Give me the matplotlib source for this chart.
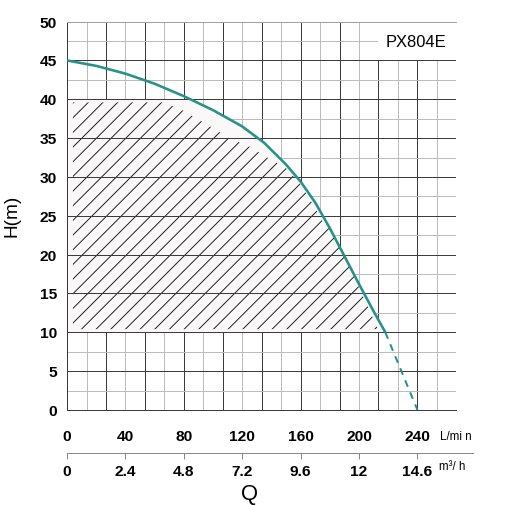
import numpy as np
import matplotlib
matplotlib.use('Agg')
import matplotlib.pyplot as plt
from matplotlib.patches import Rectangle
from matplotlib.ticker import FixedLocator, NullFormatter

# ---- data ----
curve_q = [0, 20, 40, 60, 80, 100, 120, 135, 150, 160, 170, 180, 190, 200, 210, 218]
curve_h = [45, 44.3, 43.3, 42.0, 40.4, 38.6, 36.5, 34.4, 31.6, 29.4, 26.7, 23.4, 19.8, 16.2, 12.7, 10.0]
dash_q = [218, 240]
dash_h = [10.0, 0.0]
hatch_q = [4, 66, 80, 98, 111, 125, 138, 151, 160, 168, 175, 181, 187, 197, 206, 213]
hatch_h = [39.6, 39.6, 38.5, 36.5, 35, 33.9, 32.4, 31.0, 29.0, 26.6, 24.3, 23.0, 20.8, 17.0, 13.3, 10.4]
lpm_ticks = [0, 40, 80, 120, 160, 200, 240]
m3h_labels = ['0', '2.4', '4.8', '7.2', '9.6', '12', '14.6']
h_ticks = [0, 5, 10, 15, 20, 25, 30, 35, 40, 45, 50]
model = 'PX804E'

plt.rcParams['font.family'] = ['Liberation Sans', 'DejaVu Sans']
DPI = 88
px = 72 / DPI

fig = plt.figure(figsize=(512.4 / DPI, 505.4 / DPI), dpi=DPI)
ax = fig.add_axes([67 / 512, 95 / 505, 389 / 512, 388 / 505])
col = 40 / 3
xmax = 20 * col
ax.set_xlim(0, xmax)
ax.set_ylim(0, 50)

ax.xaxis.set_major_locator(FixedLocator(np.arange(0, 21, 2) * col))
ax.xaxis.set_minor_locator(FixedLocator(np.arange(1, 20, 2) * col))
ax.xaxis.set_major_formatter(NullFormatter())
ax.set_yticks(h_ticks, [str(v) for v in h_ticks], fontweight='bold', fontsize=15.5 * px)
ax.yaxis.set_minor_locator(FixedLocator(np.arange(2.5, 50, 5)))
ax.tick_params(axis='x', which='both', length=0)
ax.tick_params(axis='y', which='both', length=0, pad=10 * px)
ax.set_axisbelow(True)
ax.grid(which='major', color='#3c3c3c', lw=1 * px)
ax.grid(which='minor', color='#bcbcbc', lw=1 * px)

for s in ['left', 'bottom']:
    ax.spines[s].set_color('#3c3c3c')
    ax.spines[s].set_linewidth(1 * px)
ax.spines['right'].set_visible(False)
ax.spines['top'].set_color('#a0a0a0')
ax.spines['top'].set_linewidth(1 * px)

# light fill under the curve between 10 and 40 m
ax.fill_between(curve_q, 10, np.minimum(curve_h, 40), facecolor='#faf8f8', lw=0, zorder=1)
# hatched working range
plt.rcParams['hatch.linewidth'] = 0.9 * px
ax.fill_between(hatch_q, 10.4, hatch_h, facecolor='none', edgecolor='#111111',
                hatch='//', lw=0, zorder=1.3)
ax.hlines([v for v in h_ticks if 10 <= v <= 40], 0, xmax, colors='#3c3c3c',
          lw=1 * px, zorder=1.5)

# model label box
ax.add_patch(Rectangle((16 * col, 45), 4 * col, 5, facecolor='white', edgecolor='none', zorder=1.2))
ax.text(239, 47.3, model, ha='center', va='center', fontsize=16.5 * px, zorder=4)

# curve
teal = '#27918c'
ax.plot(curve_q, curve_h, color=teal, lw=2.6 * px, zorder=3, solid_capstyle='butt',
        solid_joinstyle='round')
ax.plot(dash_q, dash_h, color=teal, lw=2 * px, ls=(0, (3.5, 3)), zorder=3, clip_on=False)

# secondary x axes
sec1 = ax.secondary_xaxis('bottom')
sec1.set_xticks(lpm_ticks, [str(v) for v in lpm_ticks], fontweight='bold', fontsize=15.5 * px)
sec1.tick_params(length=0, pad=20 * px)
sec1.spines['bottom'].set_visible(False)

sec2 = ax.secondary_xaxis(-0.110)
sec2.set_xticks(lpm_ticks, m3h_labels, fontweight='bold', fontsize=15.5 * px)
sec2.tick_params(length=6 * px, width=1 * px, color='#888888', pad=6 * px, direction='out')
sec2.spines['bottom'].set_color('#888888')
sec2.spines['bottom'].set_linewidth(1 * px)
sec2.spines['bottom'].set_bounds(0, 278)

fig.text(440 / 512, 1 - 436.5 / 505, 'L/mi n', fontsize=11.5 * px, ha='left', va='center')
fig.text(439 / 512, 1 - 467 / 505, 'm³/ h', fontsize=11.5 * px, ha='left', va='center')
fig.text(12 / 512, 1 - 216 / 505, 'H(m)', rotation=90, fontsize=19 * px, ha='center', va='center')
fig.text(249.5 / 512, 1 - 494 / 505, 'Q', fontsize=22 * px, ha='center', va='center')

fig.savefig('out.png', dpi=DPI)
